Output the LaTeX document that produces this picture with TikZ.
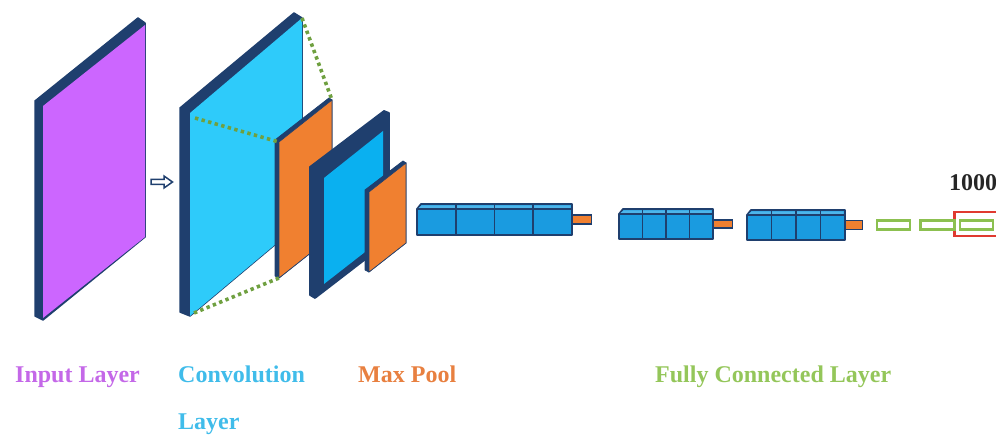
\documentclass[tikz,border=0pt]{standalone}
\usepackage{fontspec}
\setmainfont{Liberation Serif}
\definecolor{navy}{HTML}{1F3F6E}
\definecolor{purp}{HTML}{CC66FF}
\definecolor{skyb}{HTML}{2ECBFA}
\definecolor{midb}{HTML}{0AB0F0}
\definecolor{cubeb}{HTML}{1A9BE0}
\definecolor{cubetop}{HTML}{4DB5EA}
\definecolor{orng}{HTML}{F08030}
\definecolor{dotg}{HTML}{6FA040}
\definecolor{fcg}{HTML}{8CC050}
\definecolor{redb}{HTML}{E03A30}
\definecolor{txpurp}{HTML}{C468E8}
\definecolor{txblue}{HTML}{40BCEA}
\definecolor{txorng}{HTML}{E88040}
\definecolor{txgreen}{HTML}{94C65A}
\tikzset{
  slab/.style={fill=navy, draw=navy, line width=1.5pt, line join=round},
  convdots/.style={dotg, line width=3.6pt, dash pattern=on 3.4pt off 3.4pt},
  cubebody/.style={fill=cubeb, draw=navy, line width=1.8pt, line join=round},
  cubeline/.style={draw=navy, line width=1.8pt},
  conn/.style={fill=orng, draw=navy, line width=1.2pt},
  fcbox/.style={fill=white, draw=fcg, line width=2.2pt},
  lbl/.style={font=\fontsize{24}{28}\selectfont\bfseries, inner sep=0pt, anchor=base west}
}
\newcommand{\fcblock}[5]{%
  \path[cubebody] (#1,#3+5) -- (#1+4,#3) -- (#2,#3) -- (#2,#4) -- (#1,#4) -- cycle;
  \path[fill=cubetop] (#1+1.5,#3+4) -- (#1+4.5,#3+1.5) -- (#2-1.5,#3+1.5) -- (#2-1.5,#3+4) -- cycle;
  \pgfmathsetmacro{\dw}{(#2-#1)/4}
  \foreach \k in {1,2,3}{\draw[cubeline] (#1+\k*\dw,#3) -- (#1+\k*\dw,#4);}
  \draw[cubeline] (#1,#3+5) -- (#2,#3+5);
  \coordinate (#5) at (#2,{(#3+#4)/2});
}
\begin{document}
\begin{tikzpicture}[x=1pt,y=-1pt]
\useasboundingbox (0,0) rectangle (996,435);
\clip (0,0) rectangle (996,435);
% ---- Input layer
\path[slab] (35,101) -- (138,18) -- (145,23) -- (145,237) -- (43,320) -- (35,316) -- cycle;
\path[fill=purp] (43,106) coordinate (inTL) -- (145,25) coordinate (inTR) -- (145,237) coordinate (inBR) -- (43,318) coordinate (inBL) -- cycle;
% ---- arrow
\path[fill=white, draw=navy, line width=1.5pt, line join=miter]
  (151,179.5) coordinate (arT) -- (164,179.5) -- (164,176) -- (172.5,182) coordinate (arTip) -- (164,188) -- (164,184.5) -- (151,184.5) -- cycle;
% ---- Convolution layer
\path[slab] (180,108) -- (294,13) -- (302,18) -- (302,222) -- (190,316) -- (180,312) -- cycle;
\path[fill=skyb] (190,113) coordinate (cvTL) -- (302,18) coordinate (cvTR) -- (302,222) coordinate (cvBR) -- (190,316) coordinate (cvBL) -- cycle;
\coordinate (cvP) at (195,118);
\coordinate (cvQ) at (194,313);
% ---- Max pool 1
\path[slab, line width=0.8pt] (275,140) -- (329,98) -- (332,100) -- (332,236) -- (279,278) -- (275,276) -- cycle;
\path[fill=orng, draw=navy, line width=0.6pt] (279,142) coordinate (o1TL) -- (332,100) coordinate (o1TR) -- (332,236) coordinate (o1BR) -- (279,278) coordinate (o1BL) -- cycle;
% dotted convolution lines
\draw[convdots] (cvTR) -- (o1TR);
\draw[convdots] (cvP) -- (o1TL);
\draw[convdots] (cvQ) -- (o1BL);
% ---- Second conv (framed)
\path[slab, line width=1.8pt] (310,167) -- (384,111) -- (389,113) -- (389,241) -- (315,298) -- (310,295) -- cycle;
\path[fill=midb] (324,178) -- (383,131) -- (383,238) -- (324,284) -- cycle;
% ---- Max pool 2
\path[slab, line width=0.8pt] (365,190) -- (403,161) -- (406,163) -- (406,243) -- (369,272) -- (365,270) -- cycle;
\path[fill=orng, draw=navy, line width=0.6pt] (369,192) coordinate (o2TL) -- (406,163) -- (406,243) -- (369,272) -- cycle;
% ---- Fully connected blocks
\fcblock{417}{572}{204}{235}{b1}
\node[conn, minimum width=19pt, minimum height=9pt, inner sep=0pt, anchor=west] (c1) at (b1) {};
\fcblock{619}{713}{209}{239}{b2}
\node[conn, minimum width=19pt, minimum height=8pt, inner sep=0pt, anchor=west] (c2) at (b2) {};
\fcblock{747}{845}{210}{240}{b3}
\node[conn, minimum width=17pt, minimum height=9pt, inner sep=0pt, anchor=west] (c3) at (b3) {};
% ---- output rectangles
\node[fcbox, minimum width=33pt, minimum height=9pt, inner sep=0pt] (g1) at (893.5,225) {};
\node[draw=redb, line width=2.5pt, minimum width=48pt, minimum height=24pt, inner sep=0pt, anchor=west] (red) at (953,224) {};
\node[fcbox, minimum width=34pt, minimum height=9pt, inner sep=0pt] (g2) at (937.5,225) {};
\node[fcbox, minimum width=33pt, minimum height=9pt, inner sep=0pt] (g3) at (976.5,225) {};
\node[lbl, text=black!85] (thousand) at (949,191) {1000};
% ---- labels
\node[lbl, text=txpurp] (lin) at (15,383) {Input Layer};
\node[lbl, text=txblue] (lconv) at (178,383) {Convolution};
\node[lbl, text=txblue] (lconv2) at (178,429) {Layer};
\node[lbl, text=txorng] (lmax) at (358,383) {Max Pool};
\node[lbl, text=txgreen] (lfc) at (655,383) {Fully Connected Layer};
\end{tikzpicture}
\end{document}
